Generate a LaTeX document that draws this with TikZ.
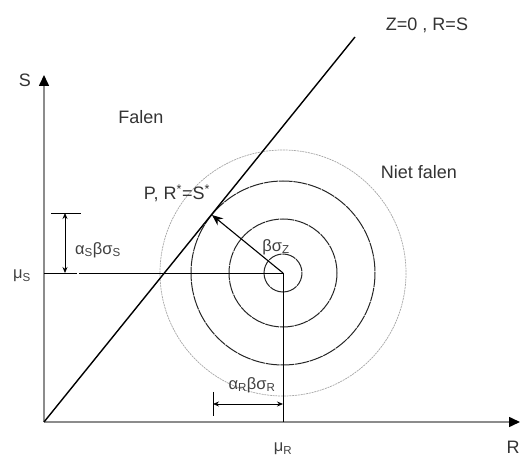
\documentclass[tikz,border=0pt]{standalone}
\usepackage{fontspec}
\setmainfont{Liberation Sans}
\usetikzlibrary{arrows.meta}
\begin{document}
\begin{tikzpicture}[x=1pt,y=-1pt,
  axis/.style={draw=black!45,line width=1.6pt},
  axtip/.style={-{Triangle[length=11pt,width=10pt,color=black]}},
  thin/.style={draw=black,line width=0.9pt},
  ring/.style={draw=black!85,line width=1pt,dash pattern=on 14pt off 0.8pt},
  outer/.style={draw=black!35,line width=0.7pt,dash pattern=on 2pt off 0.8pt},
  lbl/.style={text=black!80,font=\fontsize{18}{20}\selectfont,inner sep=0pt},
  glbl/.style={text=black!75,font=\fontsize{16.5}{18}\selectfont,inner sep=0pt},
  dim/.style={draw=black,line width=0.8pt,{Stealth[length=6pt,width=5pt]}-{Stealth[length=6pt,width=5pt]}}
]
\useasboundingbox (0,0) rectangle (520,457);
% key points
\coordinate (O) at (44,422);
\coordinate (Stip) at (44,75);
\coordinate (Rtip) at (520,422);
\coordinate (C) at (283,273);
\coordinate (P) at (212,215);
\coordinate (Ltop) at (355,37);
\coordinate (MuS) at (44,273);
\coordinate (Gap1) at (77,273);
\coordinate (Gap2) at (79,273);
\coordinate (MuR) at (283,422);
% circles
\draw[outer] (C) circle[radius=123];
\draw[ring] (C) circle[radius=92];
\draw[ring] (C) circle[radius=54];
\draw[ring] (C) circle[radius=19];
% axes
\draw[axis,axtip] (O) -- (Stip);
\draw[axis,axtip] (O) -- (Rtip);
% limit state line
\draw[draw=black,line width=1.4pt] (O) -- (Ltop);
% mean lines
\draw[thin] (MuS) -- (Gap1);
\draw[thin] (Gap2) -- (C);
\draw[thin] (C) -- (MuR);
% beta arrow
\draw[draw=black,line width=1.1pt,-{Stealth[length=11pt,width=9pt]}] (C) -- (P);
% dimension alpha_S
\coordinate (TS1) at (51,213);
\coordinate (TS2) at (81,213);
\coordinate (AS1) at (65,213);
\coordinate (AS2) at (65,273);
\draw[thin] (TS1) -- (TS2);
\draw[dim] (AS1) -- (AS2);
% dimension alpha_R
\coordinate (TR1) at (213,392);
\coordinate (TR2) at (213,416);
\coordinate (AR1) at (213,404);
\coordinate (AR2) at (283,404);
\draw[thin] (TR1) -- (TR2);
\draw[dim] (AR1) -- (AR2);
% labels
\node[lbl] (lS) at (25,80) {S};
\node[lbl] (lR) at (513,447) {R};
\node[glbl] (lmuS) at (22,276) {μ\textsubscript{S}};
\node[glbl] (lmuR) at (283,449) {μ\textsubscript{R}};
\node[lbl] (falen) at (141,117) {Falen};
\node[lbl] (niet) at (419,172) {Niet falen};
\node[lbl] (zline) at (427,25) {Z=0 , R=S};
\node[lbl] (lP) at (177,193) {P, R\textsuperscript{*}=S\textsuperscript{*}};
\node[glbl] (lbeta) at (276,247) {βσ\textsubscript{Z}};
\node[glbl] (laS) at (98,250) {α\textsubscript{S}βσ\textsubscript{S}};
\node[glbl] (laR) at (252,385) {α\textsubscript{R}βσ\textsubscript{R}};
\end{tikzpicture}
\end{document}
